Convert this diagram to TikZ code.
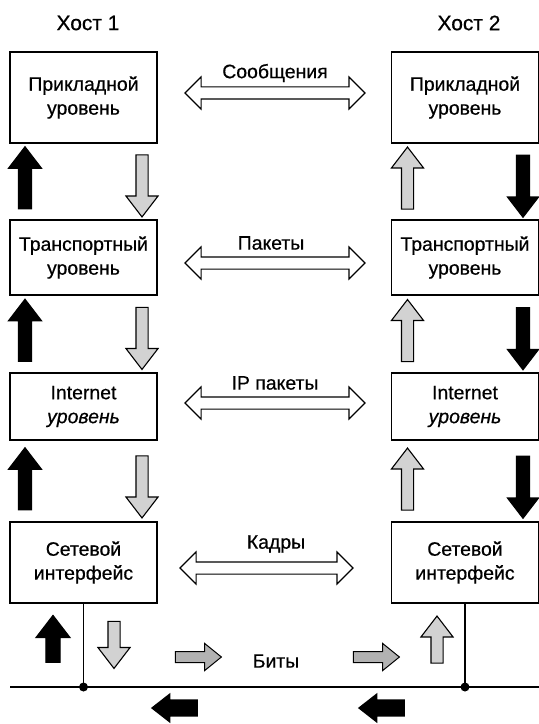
\documentclass[tikz,border=0pt]{standalone}
\usepackage{fontspec}
\setmainfont{Liberation Sans}[FakeBold=0.6]
\usetikzlibrary{shapes.arrows}

\begin{document}
\begin{tikzpicture}[x=1bp, y=-1bp,
    txt/.style={font=\fontsize{19.5}{24}\selectfont},
    layerbox/.style={txt, draw, line width=1.2bp, minimum width=147bp, align=center, inner sep=0pt},
    vertarrow/.style={single arrow, draw, line width=1.1bp, inner sep=6bp, minimum height=62bp,
        single arrow head extend=10bp, single arrow tip angle=75},
    updark/.style={vertarrow, fill=black, shape border rotate=90},
    downdark/.style={vertarrow, fill=black, shape border rotate=270, single arrow head extend=9bp},
    uplight/.style={vertarrow, fill=gray!35, shape border rotate=90, inner sep=5.5bp},
    downlight/.style={vertarrow, fill=gray!35, shape border rotate=270, inner sep=5.5bp},
    pduarrow/.style={double arrow, draw, line width=1.1bp, inner sep=5.5bp, minimum height=180bp,
        double arrow head extend=10bp, double arrow tip angle=90},
    bitarrow/.style={single arrow, draw, line width=1bp, fill=gray!60, inner sep=5bp, minimum height=46bp,
        single arrow head extend=8bp, single arrow tip angle=78},
    wirearrow/.style={single arrow, fill=black, inner sep=8.5bp, minimum height=47bp,
        single arrow head extend=6.5bp, single arrow tip angle=76, shape border rotate=180}]

    \useasboundingbox (0,0) rectangle (539,724);

    % hosts
    \node[font=\fontsize{21}{24}\selectfont] (host1) at (88,23) {Хост 1};
    \node[font=\fontsize{21}{24}\selectfont] (host2) at (469,23) {Хост 2};

    % layers of host 1
    \node[layerbox, minimum height=91bp] (app1) at (83.5,97.5) {Прикладной\\уровень};
    \node[layerbox, minimum height=75bp] (trans1) at (83.5,257.5) {Транспортный\\уровень};
    \node[layerbox, minimum height=67bp] (inet1) at (83.5,406.5) {Internet\\\textit{уровень}};
    \node[layerbox, minimum height=81bp] (net1) at (83.5,562.5) {Сетевой\\интерфейс};

    % layers of host 2
    \node[layerbox, minimum height=91bp] (app2) at (465,97.5) {Прикладной\\уровень};
    \node[layerbox, minimum height=75bp] (trans2) at (465,257.5) {Транспортный\\уровень};
    \node[layerbox, minimum height=67bp] (inet2) at (465,406.5) {Internet\\\textit{уровень}};
    \node[layerbox, minimum height=81bp] (net2) at (465,562.5) {Сетевой\\интерфейс};

    % up and down the stacks
    \node[updark] (up1a) at (25,182) {};
    \node[downlight] (down1a) at (142,182) {};
    \node[updark] (up1b) at (25,334.5) {};
    \node[downlight] (down1b) at (142,334.5) {};
    \node[updark] (up1c) at (25,483) {};
    \node[downlight] (down1c) at (142,483) {};

    \node[uplight] (up2a) at (407.5,182) {};
    \node[downdark] (down2a) at (523,182) {};
    \node[uplight] (up2b) at (407.5,334.5) {};
    \node[downdark] (down2b) at (523,334.5) {};
    \node[uplight] (up2c) at (407.5,483) {};
    \node[downdark] (down2c) at (523,483) {};

    % peer exchange
    \node[pduarrow] (msg) at (275,93) {};
    \node[txt] (msglbl) at (275,73) {Сообщения};
    \node[pduarrow] (pkt) at (275,263) {};
    \node[txt] (pktlbl) at (271,243) {Пакеты};
    \node[pduarrow] (ippkt) at (275,403) {};
    \node[txt] (ippktlbl) at (275,383) {IP пакеты};
    \node[pduarrow, minimum height=173bp] (frm) at (266.5,568) {};
    \node[txt] (frmlbl) at (276,544) {Кадры};

    % physical medium
    \coordinate (busL) at (10,687);
    \coordinate (busR) at (539,687);
    \coordinate (tap1) at (83.5,687);
    \coordinate (tap2) at (465,687);
    \draw[line width=1.2bp] (busL) -- (busR);
    \draw[line width=1.2bp] (net1.south) -- (tap1);
    \draw[line width=1.2bp] (net2.south) -- (tap2);
    \fill (tap1) circle (4.5bp);
    \fill (tap2) circle (4.5bp);

    \node[updark, minimum height=47bp, inner sep=6.5bp] (up1d) at (53,643.5) {};
    \node[downlight, minimum height=47bp] (down1d) at (114,641) {};
    \node[uplight, minimum height=47bp] (up2d) at (437,643.5) {};

    \node[bitarrow] (bit1) at (195,657) {};
    \node[txt] (bitlbl) at (276,661) {Биты};
    \node[bitarrow] (bit2) at (373,657) {};
    \node[wirearrow] (wire1) at (180,708) {};
    \node[wirearrow] (wire2) at (387,708) {};
\end{tikzpicture}
\end{document}
